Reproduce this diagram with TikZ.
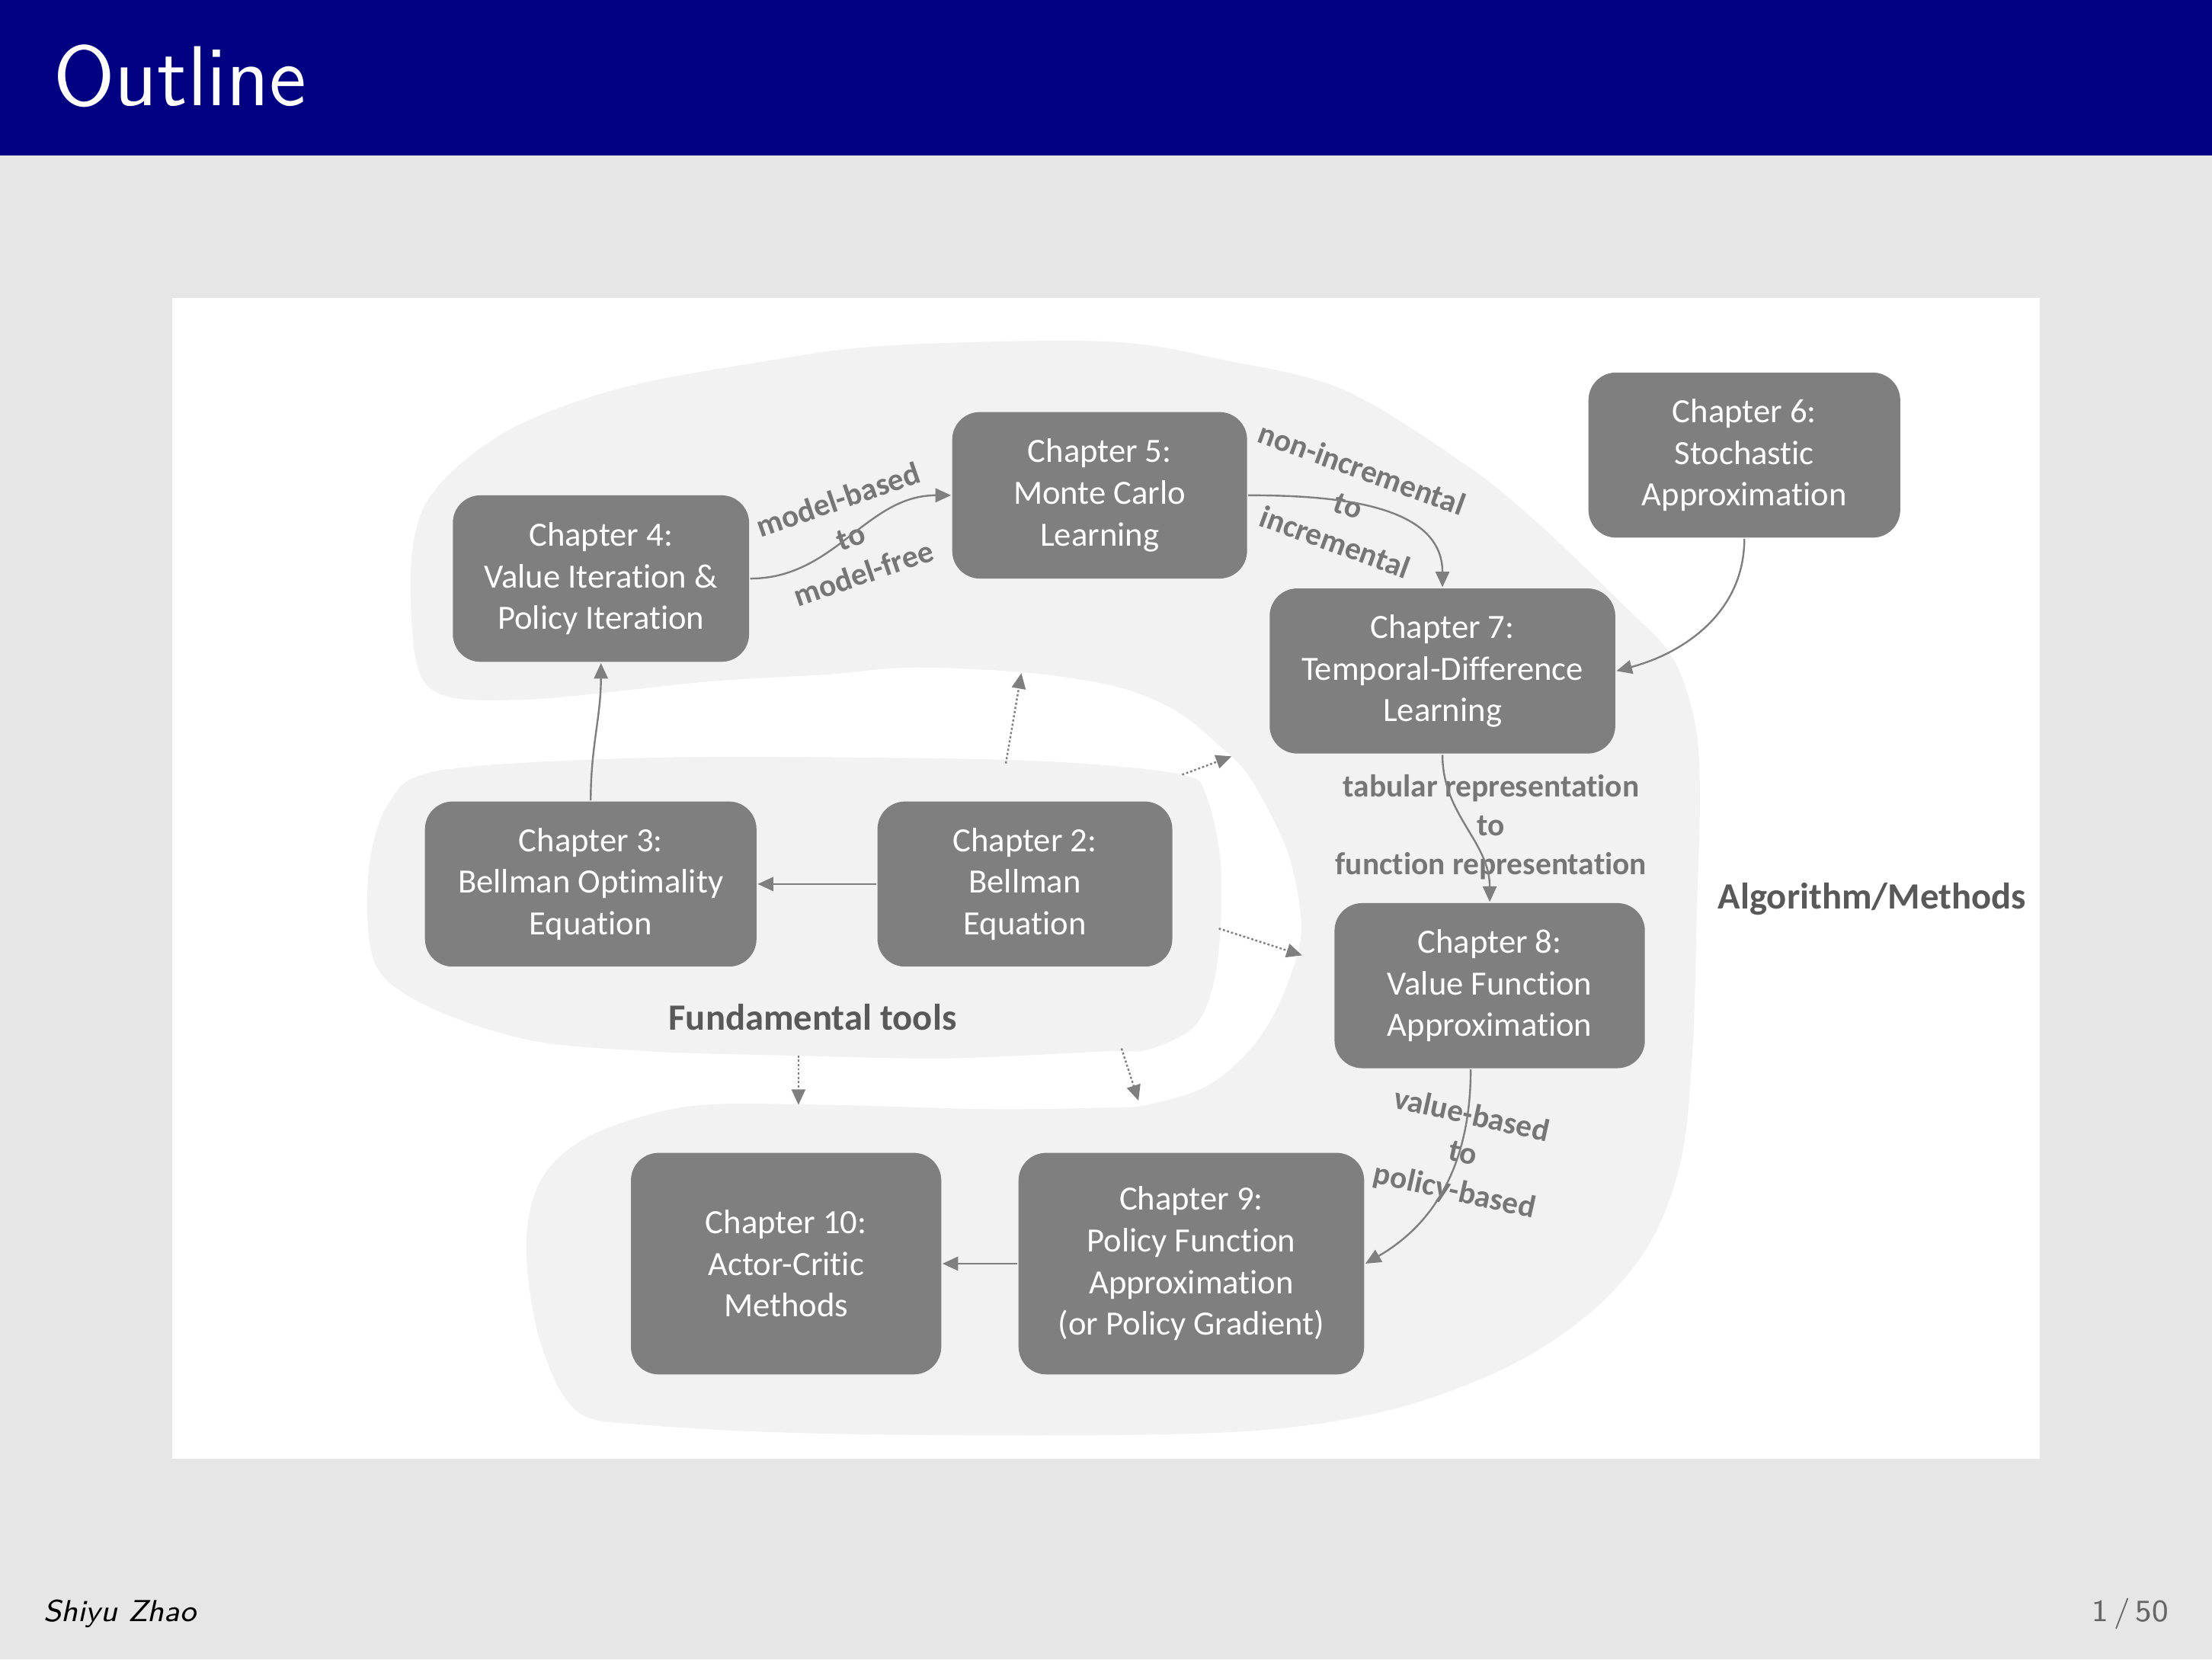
\documentclass[tikz,border=0pt]{standalone}
\usepackage{fontspec}
\newfontfamily\chapfont[Ligatures=NoCommon]{Carlito}
\usetikzlibrary{arrows.meta, positioning}
\definecolor{navybar}{RGB}{0,0,128}
\definecolor{slidebg}{RGB}{230,230,230}
\definecolor{boxgray}{RGB}{127,127,127}
\definecolor{blobgray}{RGB}{242,242,242}
\definecolor{labelgray}{RGB}{118,118,118}
\definecolor{groupgray}{RGB}{89,89,89}
\newcommand{\pxu}{0.0081633cm}
\tikzset{
    chapter/.style={rectangle, rounded corners=0.16cm, fill=boxgray, text=white, align=center, inner sep=0pt,
        font=\chapfont\fontsize{5.6}{6.85}\selectfont},
    link/.style={draw=boxgray, line width=0.3pt, -{Triangle[length=0.09cm, width=0.08cm]}},
    hint/.style={link, dash pattern=on 0.35pt off 0.35pt},
    steplabel/.style={text=labelgray, align=center, font=\chapfont\bfseries\fontsize{5.2}{6.4}\selectfont},
    grouplabel/.style={text=groupgray, font=\chapfont\bfseries\fontsize{6.1}{7}\selectfont},
    blob/.style={fill=blobgray, draw=none}
}

\begin{document}
\begin{tikzpicture}[x=0.0081633cm, y=-0.0081633cm]
        \useasboundingbox (0,0) rectangle (1568,1176);
        \fill[slidebg] (0,0) rectangle (1568,1176);
        \fill[navybar] (0,0) rectangle (1568,110);
        \node[anchor=base west, inner sep=0pt, text=white, font=\sffamily\fontsize{14}{16}\selectfont] (title) at (37,75) {Outline};
        \fill[white] (122,211) rectangle (1446,1034);

        \fill[blob] plot[smooth cycle, tension=0.55] coordinates {
            (291,420) (298,365) (325,330) (370,300) (440,275) (530,258) (628,245) (784,242) (867,255) (952,276)
            (1037,328) (1087,368) (1150,428) (1185,465) (1201,510) (1205,560) (1203,640) (1200,740)
            (1192,820) (1170,880) (1130,928) (1070,968) (990,998) (900,1013) (784,1017) (586,1016)
            (460,1010) (409,1000) (383,951) (373,885) (383,837) (418,805) (489,784) (586,783) (700,786)
            (783,785) (813,783) (855,770) (886,744) (906,713) (921,671) (921,640) (911,599) (886,551)
            (865,529) (834,504) (793,487) (731,477) (648,473) (586,478) (502,483) (367,496) (303,486)};
        \fill[blob] plot[smooth cycle, tension=0.55] coordinates {
            (275,570) (312,546) (460,537) (628,537) (750,540) (838,549) (855,564) (865,609) (865,661)
            (859,702) (845,729) (813,744) (784,745) (671,750) (560,748) (460,745) (375,737) (303,713)
            (266,683) (261,621)};

        \node[grouplabel] (ftools) at (576,721) {Fundamental tools};
        \node[grouplabel] (algs) at (1327,637) {Algorithm/Methods};

        \node[chapter, minimum width=209*\pxu, minimum height=117*\pxu] (ch2) at (726.5,626.5) {Chapter 2:\\Bellman\\Equation};
        \node[chapter, minimum width=235*\pxu, minimum height=117*\pxu, left=0.686cm of ch2] (ch3) {Chapter 3:\\Bellman Optimality\\Equation};
        \node[chapter, minimum width=210*\pxu, minimum height=118*\pxu] (ch4) at (426,410) {Chapter 4:\\Value Iteration \&\\Policy Iteration};
        \node[chapter, minimum width=209*\pxu, minimum height=118*\pxu] (ch5) at (779.5,351) {Chapter 5:\\Monte Carlo\\Learning};
        \node[chapter, minimum width=221*\pxu, minimum height=117*\pxu] (ch6) at (1236.5,322.5) {Chapter 6:\\Stochastic\\Approximation};
        \node[chapter, minimum width=245*\pxu, minimum height=117*\pxu] (ch7) at (1022.5,475.5) {Chapter 7:\\Temporal-Difference\\Learning};
        \node[chapter, minimum width=220*\pxu, minimum height=117*\pxu] (ch8) at (1056,698.5) {Chapter 8:\\Value Function\\Approximation};
        \node[chapter, minimum width=245*\pxu, minimum height=157*\pxu] (ch9) at (844.5,895.5) {Chapter 9:\\Policy Function\\Approximation\\(or Policy Gradient)};
        \node[chapter, minimum width=220*\pxu, minimum height=157*\pxu, left=0.433cm of ch9] (ch10) {Chapter 10:\\Actor-Critic\\Methods};

        \node[steplabel, rotate=19] (lab45) at (603,380) {model-based\\to\\model-free};
        \node[steplabel, rotate=-20] (lab57) at (956,358) {non-incremental\\to\\incremental};
        \node[steplabel] (lab78) at (1057,586) {tabular representation\\to\\function representation};
        \node[steplabel, rotate=-12.5] (lab89) at (1037,818) {value-based\\to\\policy-based};

        \draw[link] (ch2.west) -- (ch3.east);
        \draw[link] (ch3.north) to[out=90, in=-90] (ch4.south);
        \draw[link] (ch4.east) to[out=0, in=180] (ch5.west);
        \draw[link] (ch5.east) to[out=0, in=90] (ch7.north);
        \draw[link] (ch6.south) to[out=-90, in=15] (ch7.east);
        \draw[link] (ch7.south) to[out=-90, in=90] (ch8.north);
        \draw[link] ([xshift=-0.11cm]ch8.south) to[out=-90, in=30] (ch9.east);
        \draw[link] (ch9.west) -- (ch10.east);

        \coordinate (ft1) at (713,541);
        \coordinate (ft2) at (838,549);
        \coordinate (ft3) at (864,658);
        \coordinate (ft4) at (795,743);
        \coordinate (ft5) at (566,748);
        \coordinate (alg1) at (724,477);
        \coordinate (alg2) at (873,536);
        \coordinate (alg3) at (923,677);
        \coordinate (alg4) at (807,780);
        \coordinate (alg5) at (566,783);
        \foreach \i in {1,...,5}
            \draw[hint] (ft\i) -- (alg\i);

        \node[anchor=base west, inner sep=0pt, font=\sffamily\itshape\fontsize{5}{6}\selectfont] (author) at (30,1149) {Shiyu Zhao};
        \node[anchor=base east, inner sep=0pt, text=black!60, font=\sffamily\fontsize{5.1}{6}\selectfont] (pageno) at (1538,1149) {1\,/\,50};
\end{tikzpicture}
\end{document}
